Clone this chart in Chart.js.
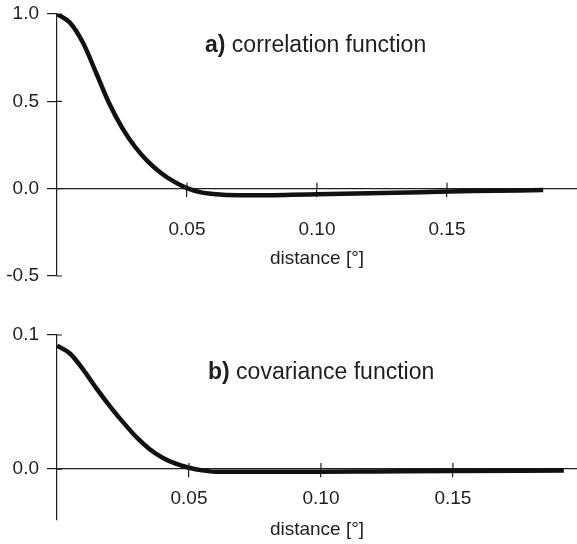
<!DOCTYPE html>
<html>
<head>
<meta charset="utf-8">
<script src="https://cdn.jsdelivr.net/npm/chart.js@4/dist/chart.umd.min.js"></script>
<style>
  html, body { margin: 0; padding: 0; background: #fff; }
  #top { position: absolute; left: 0; top: 0; }
  #bottom { position: absolute; left: 0; top: 290px; }
</style>
</head>
<body>
<canvas id="top" width="577" height="290"></canvas>
<canvas id="bottom" width="577" height="254"></canvas>
<script>
// a) correlation function
const corrDist = [0, 0.005, 0.01, 0.015, 0.02, 0.025, 0.03, 0.035, 0.04, 0.045, 0.05, 0.055, 0.06, 0.07, 0.08, 0.09, 0.10, 0.12, 0.14, 0.16, 0.187];
const corrVals = [1.0, 0.95, 0.835, 0.665, 0.49, 0.35, 0.24, 0.155, 0.09, 0.04, 0.003, -0.02, -0.03, -0.037, -0.037, -0.035, -0.032, -0.026, -0.02, -0.014, -0.008];
const corrYTicks = [-0.5, 0, 0.5, 1.0];

// b) covariance function
const covDist = [0, 0.005, 0.01, 0.015, 0.02, 0.025, 0.03, 0.035, 0.04, 0.045, 0.05, 0.055, 0.06, 0.08, 0.10, 0.12, 0.15, 0.192];
const covVals = [0.092, 0.086, 0.074, 0.06, 0.047, 0.035, 0.024, 0.015, 0.0085, 0.004, 0.001, -0.001, -0.002, -0.002, -0.002, -0.0018, -0.0015, -0.001];
const covYTicks = [0, 0.1];

const xTicks = [0.05, 0.10, 0.15];

const FONT = '"Liberation Sans", Arial, sans-serif';
const INK = '#1e1e1e';

// Beschriftung mit fettem Buchstaben, z.B. "a) correlation function"
const panelLabel = {
    id: 'panelLabel',
    afterDraw(chart, args, opts) {
        const ctx = chart.ctx;
        ctx.save();
        ctx.fillStyle = INK;
        ctx.textBaseline = 'middle';
        ctx.font = 'bold 23px ' + FONT;
        ctx.fillText(opts.letter, opts.x, opts.y);
        const w = ctx.measureText(opts.letter + ' ').width;
        ctx.font = '23px ' + FONT;
        ctx.fillText(opts.text, opts.x + w, opts.y);
        ctx.restore();
    }
};

// kleine Tickstriche auf der Innenseite der Achsen
const innerTicks = {
    id: 'innerTicks',
    afterDraw(chart) {
        const ctx = chart.ctx, x = chart.scales.x, y = chart.scales.y;
        const y0 = y.getPixelForValue(0), left = chart.chartArea.left;
        ctx.save();
        ctx.strokeStyle = INK;
        ctx.lineWidth = 1.2;
        ctx.beginPath();
        x.ticks.forEach(t => {
            const px = x.getPixelForValue(t.value);
            ctx.moveTo(px, y0 - 6);
            ctx.lineTo(px, y0);
        });
        y.ticks.forEach(t => {
            const py = y.getPixelForValue(t.value);
            ctx.moveTo(left, py);
            ctx.lineTo(left + 5, py);
        });
        ctx.stroke();
        ctx.restore();
    }
};

function makeChart(id, dist, vals, yTicks, cfg) {
    return new Chart(document.getElementById(id), {
        type: 'line',
        data: {
            datasets: [{
                data: dist.map((d, i) => ({ x: d, y: vals[i] })),
                borderColor: '#111',
                borderWidth: 4.5,
                pointRadius: 0,
                fill: false,
                cubicInterpolationMode: 'monotone'
            }]
        },
        options: {
            responsive: false,
            animation: false,
            layout: { padding: { top: cfg.padTop, bottom: cfg.padBottom, left: 0, right: 0 } },
            plugins: {
                legend: { display: false },
                tooltip: { enabled: false },
                panelLabel: cfg.label
            },
            scales: {
                x: {
                    type: 'linear',
                    position: { y: 0 },
                    min: 0,
                    max: cfg.xMax,
                    afterBuildTicks: axis => { axis.ticks = xTicks.map(v => ({ value: v })); },
                    ticks: {
                        color: INK,
                        font: { family: FONT, size: 19 },
                        padding: cfg.xLabelPad,
                        maxRotation: 0,
                        callback: v => v.toFixed(2)
                    },
                    grid: { drawOnChartArea: false, color: INK, tickLength: 8, lineWidth: 1.2 },
                    border: { color: INK, width: 1.2 },
                    title: {
                        display: true,
                        text: 'distance [°]',
                        color: INK,
                        font: { family: FONT, size: 19 },
                        padding: { top: cfg.xTitlePad, bottom: 0 }
                    }
                },
                y: {
                    type: 'linear',
                    position: 'left',
                    min: cfg.yMin,
                    max: cfg.yMax,
                    afterBuildTicks: axis => { axis.ticks = yTicks.map(v => ({ value: v })); },
                    afterFit: scale => {
                        scale.width = 57;
                        scale.paddingTop = 0;
                        scale.paddingBottom = 0;
                    },
                    ticks: {
                        color: INK,
                        font: { family: FONT, size: 19 },
                        padding: 8,
                        callback: v => v.toFixed(1)
                    },
                    grid: { drawOnChartArea: false, color: INK, tickLength: 10, lineWidth: 1.2 },
                    border: { color: INK, width: 1.2 }
                }
            }
        },
        plugins: [panelLabel, innerTicks]
    });
}

makeChart('top', corrDist, corrVals, corrYTicks, {
    padTop: 14, padBottom: 14, xMax: 0.2, yMin: -0.5, yMax: 1.0,
    xLabelPad: 22, xTitlePad: -16,
    label: { letter: 'a)', text: 'correlation function', x: 205, y: 46 }
});

makeChart('bottom', covDist, covVals, covYTicks, {
    padTop: 45, padBottom: 24, xMax: 0.197, yMin: -0.038, yMax: 0.1,
    xLabelPad: 10, xTitlePad: -1,
    label: { letter: 'b)', text: 'covariance function', x: 208, y: 83 }
});
</script>
</body>
</html>
